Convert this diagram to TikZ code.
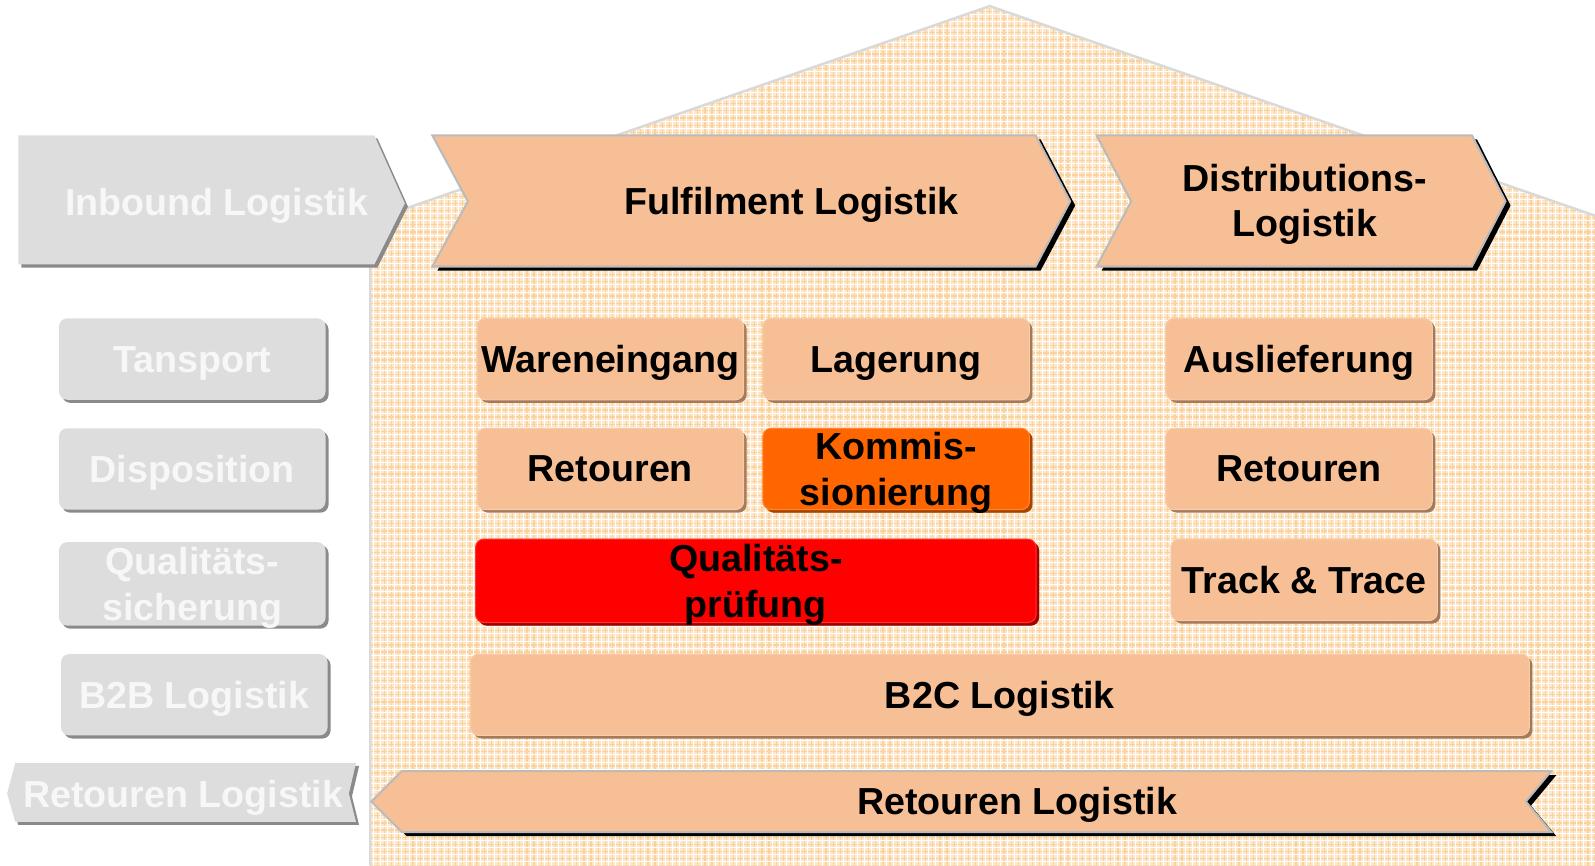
\documentclass[tikz,border=0pt]{standalone}
\usepackage{fontspec}
\setmainfont{Liberation Sans}
\usetikzlibrary{shadows}
\definecolor{ofill}{HTML}{F6BF96}
\definecolor{oshadow}{HTML}{A37B5C}
\definecolor{gfill}{HTML}{DDDDDD}
\definecolor{gshadow}{HTML}{8A8A8A}
\definecolor{gtext}{HTML}{F7F7F7}
\definecolor{hbase}{HTML}{FDE8CC}
\definecolor{hline}{HTML}{F9D29F}
\definecolor{hedge}{HTML}{D9D9D9}
\definecolor{kfill}{HTML}{FF6600}
\definecolor{kshadow}{HTML}{A84300}
\definecolor{qfill}{HTML}{FF0000}
\definecolor{qshadow}{HTML}{A00000}
\definecolor{aedge}{HTML}{BBBBBB}
\tikzset{
  lbl/.style={font=\fontsize{18.5}{22.5}\selectfont\bfseries, align=center, inner sep=0pt, text depth=0pt},
  gbox/.style={lbl, rounded corners=4pt, fill=gfill, text=gtext,
    minimum width=131pt, minimum height=40pt,
    drop shadow={shadow xshift=1.5pt, shadow yshift=-1.5pt, fill=gshadow, opacity=1}},
  obox/.style={lbl, rounded corners=4pt, fill=ofill, draw=ofill!80!white, line width=0.5pt, text=black,
    minimum width=131pt, minimum height=40pt,
    drop shadow={shadow xshift=1.5pt, shadow yshift=-1.5pt, fill=oshadow, opacity=1}},
  arrowbody/.style={fill=ofill, draw=aedge, line width=1pt, line join=miter},
  arrowshadow/.style={fill=black},
  graybody/.style={fill=gfill},
  grayshadow/.style={fill=gshadow}
}
\begin{document}
\begin{tikzpicture}[x=0.5pt,y=-0.5pt]
\useasboundingbox (0,0) rectangle (1568,851);
% house
\fill[hbase] (364,851) -- (364,217) -- (973,6) -- (1568,212) -- (1568,851) -- cycle;
\begin{scope}
  \clip (364,851) -- (364,217) -- (973,6) -- (1568,212) -- (1568,851) -- cycle;
  \foreach \x in {364,371,...,1568} {\draw[hline, line width=0.6pt] (\x,0) -- (\x,851);}
  \foreach \y in {4,11,...,851} {\draw[hline, line width=0.6pt] (364,\y) -- (1568,\y);}
  \foreach \x in {367,374,...,1568} {\draw[white, line width=0.35pt] (\x,0) -- (\x,851);}
  \foreach \y in {7,14,...,851} {\draw[white, line width=0.35pt] (364,\y) -- (1568,\y);}
\end{scope}
\draw[hedge, line width=1.2pt] (364,851) -- (364,217) -- (973,6) -- (1568,212);

% Inbound Logistik (gray arrow)
\path[grayshadow] (21,136) -- (371,136) -- (401,203) -- (371,263) -- (21,263) -- cycle;
\path[graybody] (18,133) -- (368,133) -- (398,200) -- (368,260) -- (18,260) -- cycle;
\node[lbl, text=gtext] (inbound) at (213,198) {Inbound Logistik};

% Fulfilment Logistik
\path[arrowshadow] (430,137) -- (1023,137) -- (1057,202) -- (1023,266) -- (430,266) -- (465,202) -- cycle;
\path[arrowbody] (425,133) -- (1018,133) -- (1052,198) -- (1018,262) -- (425,262) -- (460,198) -- cycle;
\node[lbl] (fulfil) at (778,197) {Fulfilment Logistik};

% Distributions-Logistik
\path[arrowshadow] (1083,137) -- (1452,137) -- (1485,202) -- (1452,266) -- (1083,266) -- (1117,202) -- cycle;
\path[arrowbody] (1078,133) -- (1447,133) -- (1480,198) -- (1447,262) -- (1078,262) -- (1112,198) -- cycle;
\node[lbl] (distrib) at (1283,197) {Distributions-\\Logistik};

% left gray boxes
\node[gbox] (tansport) at (189,353) {Tansport};
\node[gbox] (dispo) at (189,461) {Disposition};
\node[gbox, minimum height=41pt] (qsich) at (189,574) {Qualitäts-\\sicherung};
\node[gbox] (b2b) at (191,683) {B2B Logistik};

% Retouren Logistik (gray, left)
\path[grayshadow] (18,753) -- (353,753) -- (346,783) -- (353,811) -- (18,811) -- (10,783) -- cycle;
\path[graybody] (15,750) -- (350,750) -- (343,780) -- (350,808) -- (15,808) -- (7,780) -- cycle;
\node[lbl, text=gtext] (retlogleft) at (180,780) {Retouren Logistik};

% orange boxes
\node[obox] (waren) at (600,353) {Wareneingang};
\node[obox] (lager) at (881,353) {Lagerung};
\node[obox] (ausl) at (1277,353) {Auslieferung};
\node[obox] (ret1) at (600,461) {Retouren};
\node[obox, fill=kfill, draw=kfill!80!white,
  drop shadow={shadow xshift=1.5pt, shadow yshift=-1.5pt, fill=kshadow, opacity=1}] (kommi) at (881,461) {Kommis-\\sionierung};
\node[obox] (ret2) at (1277,461) {Retouren};
\node[obox, fill=qfill, draw=qfill!80!white, minimum width=275.5pt, minimum height=41pt,
  drop shadow={shadow xshift=1.5pt, shadow yshift=-1.5pt, fill=qshadow, opacity=1}] (quali) at (743,571) {Qualitäts-\\prüfung};
\node[obox] (track) at (1282,570) {Track \& Trace};
\node[obox, minimum width=520.5pt] (b2c) at (983,683) {B2C Logistik};

% Retouren Logistik (bottom arrow)
\path[arrowshadow] (400,762) -- (1530,762) -- (1505,792) -- (1530,822) -- (400,822) -- (370,792) -- cycle;
\path[arrowbody] (395,758) -- (1525,758) -- (1500,788) -- (1525,818) -- (395,818) -- (365,788) -- cycle;
\node[lbl] (retlog) at (1000,787) {Retouren Logistik};
\end{tikzpicture}
\end{document}
